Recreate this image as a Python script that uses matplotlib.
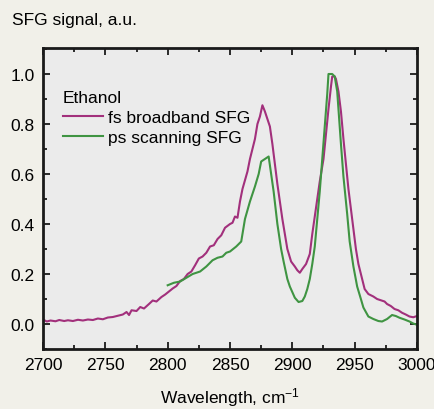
import matplotlib.pyplot as plt
from matplotlib.ticker import MultipleLocator

plt.rcParams['font.family'] = ['Liberation Sans', 'DejaVu Sans']
plt.rcParams['mathtext.default'] = 'regular'

# fs broadband SFG
fs_x = [2700, 2703, 2706, 2710, 2713, 2717, 2720, 2724, 2728, 2732, 2736,
        2740, 2744, 2748, 2752, 2756, 2760, 2764, 2767, 2769, 2771, 2775,
        2778, 2781, 2785, 2788, 2791, 2795, 2798, 2801, 2804, 2807, 2810,
        2813, 2816, 2819, 2822, 2825, 2828, 2831, 2834, 2837, 2840, 2843,
        2846, 2850, 2852, 2854, 2856, 2858, 2860, 2862, 2864, 2866, 2868,
        2870, 2872, 2874, 2876, 2878, 2880, 2882, 2884, 2886, 2888, 2890,
        2892, 2894, 2896, 2899, 2902, 2904, 2906, 2908, 2911, 2914, 2916,
        2918, 2920, 2922, 2925, 2927, 2929, 2931, 2932, 2934, 2935, 2937,
        2939, 2941, 2943, 2945, 2947, 2949, 2951, 2953, 2956, 2958, 2961,
        2965, 2968, 2971, 2974, 2976, 2979, 2982, 2985, 2988, 2991, 2994,
        2997, 3000]
fs_y = [0.018, 0.010, 0.014, 0.011, 0.016, 0.012, 0.015, 0.012, 0.017, 0.014, 0.018,
        0.016, 0.022, 0.019, 0.026, 0.028, 0.033, 0.038, 0.048, 0.036, 0.055, 0.052,
        0.068, 0.062, 0.080, 0.094, 0.090, 0.108, 0.118, 0.130, 0.142, 0.152, 0.172,
        0.180, 0.200, 0.210, 0.235, 0.262, 0.270, 0.285, 0.310, 0.315, 0.340, 0.355,
        0.385, 0.400, 0.405, 0.430, 0.425, 0.490, 0.540, 0.575, 0.610, 0.660, 0.700,
        0.740, 0.800, 0.830, 0.875, 0.850, 0.820, 0.790, 0.720, 0.640, 0.560, 0.490,
        0.420, 0.360, 0.300, 0.250, 0.230, 0.215, 0.205, 0.220, 0.240, 0.280, 0.360,
        0.430, 0.500, 0.570, 0.660, 0.760, 0.860, 0.950, 0.990, 0.990, 0.980, 0.930,
        0.850, 0.740, 0.640, 0.540, 0.460, 0.380, 0.300, 0.240, 0.180, 0.140, 0.120,
        0.110, 0.100, 0.095, 0.090, 0.080, 0.072, 0.060, 0.055, 0.045, 0.038, 0.030,
        0.027, 0.032]

# ps scanning SFG
ps_x = [2800, 2805, 2810, 2815, 2820, 2826, 2831, 2836, 2840, 2844, 2847,
        2850, 2855, 2859, 2862, 2866, 2870, 2873, 2875, 2878, 2881, 2883,
        2885, 2888, 2891, 2893, 2896, 2898, 2902, 2905, 2908, 2910, 2912,
        2914, 2916, 2918, 2920, 2922, 2924, 2926, 2928, 2929, 2932, 2934,
        2936, 2937, 2939, 2941, 2944, 2946, 2949, 2952, 2955, 2957, 2961,
        2965, 2969, 2972, 2976, 2980, 2983, 2986, 2990, 2994, 2997, 3000]
ps_y = [0.155, 0.165, 0.170, 0.185, 0.200, 0.210, 0.230, 0.255, 0.265, 0.270, 0.285,
        0.290, 0.310, 0.330, 0.420, 0.490, 0.550, 0.600, 0.650, 0.660, 0.670, 0.600,
        0.530, 0.400, 0.300, 0.250, 0.180, 0.150, 0.105, 0.088, 0.092, 0.110, 0.140,
        0.180, 0.240, 0.310, 0.420, 0.530, 0.660, 0.790, 0.920, 1.000, 1.000, 0.990,
        0.930, 0.860, 0.720, 0.590, 0.440, 0.330, 0.230, 0.150, 0.100, 0.066, 0.030,
        0.020, 0.012, 0.010, 0.020, 0.036, 0.032, 0.025, 0.018, 0.010, 0.002, -0.003]

x_ticks = [2700, 2750, 2800, 2850, 2900, 2950, 3000]
y_ticks = [0.0, 0.2, 0.4, 0.6, 0.8, 1.0]

fig = plt.figure(figsize=(4.35, 4.1), dpi=100, facecolor='#F1F0E9')
ax = fig.add_axes([0.0989, 0.1463, 0.8597, 0.7342])
ax.set_facecolor('#EBEBEB')

ax.plot(fs_x, fs_y, color='#A2307C', lw=1.5, label='fs broadband SFG')
ax.plot(ps_x, ps_y, color='#3F9442', lw=1.5, label='ps scanning SFG')

ax.set_xlim(2700, 3000)
ax.set_ylim(-0.1, 1.104)
ax.set_xticks(x_ticks)
ax.set_yticks(y_ticks)
ax.set_yticklabels(['%.1f' % v for v in y_ticks])
ax.xaxis.set_minor_locator(MultipleLocator(25))
ax.yaxis.set_minor_locator(MultipleLocator(0.1))
ax.tick_params(which='both', direction='in', top=True, right=True,
               labelsize=12.5, width=1.3, color='#1a1a1a')
ax.tick_params(which='major', length=5, pad=6)
ax.tick_params(which='minor', length=3)
for s in ax.spines.values():
    s.set_linewidth(2)
    s.set_color('#1a1a1a')

leg = ax.legend(title='Ethanol', loc='upper left', bbox_to_anchor=(0.035, 0.885),
                frameon=False, fontsize=12.5, title_fontsize=12.5,
                handlelength=2.3, handletextpad=0.3, labelspacing=0.3,
                borderaxespad=0)
leg._legend_box.align = 'left'

ax.set_xlabel('Wavelength, cm$^{-1}$', fontsize=12.5, labelpad=9)
fig.text(0.028, 0.95, 'SFG signal, a.u.', fontsize=12.5, va='center', ha='left')

fig.savefig('out.png', dpi=100, facecolor=fig.get_facecolor())
